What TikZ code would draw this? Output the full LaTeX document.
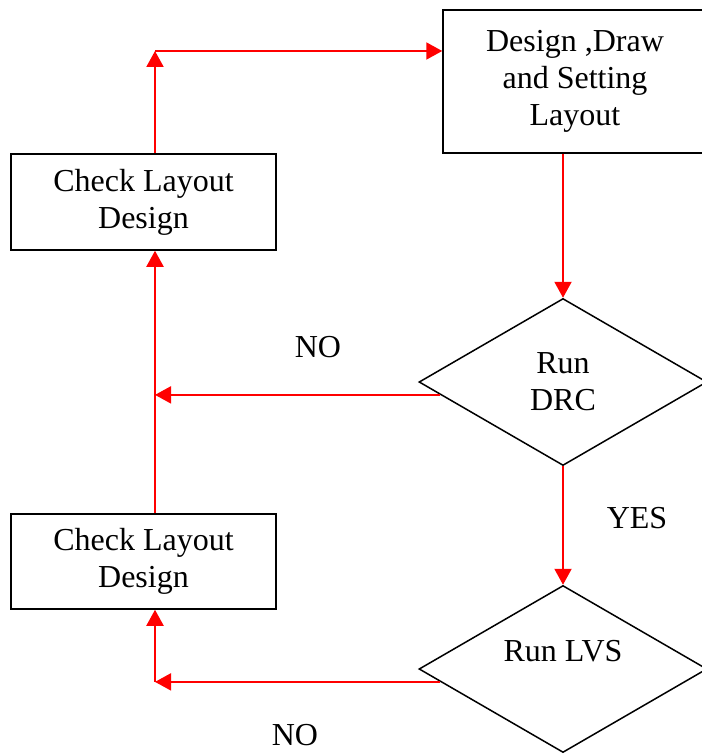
\documentclass[tikz,border=0pt]{standalone}
\usepackage{fontspec}
\setmainfont{Liberation Serif}
\usetikzlibrary{shapes.geometric,arrows.meta}

\begin{document}
\begin{tikzpicture}[x=1pt, y=-1pt,
      font=\fontsize{32}{37}\selectfont,
      box/.style={draw, line width=1.5pt, align=center, inner sep=0pt,
                  minimum width=265pt, minimum height=96pt},
      decision/.style={draw, diamond, aspect=1.7, line width=1.5pt, align=center,
                  inner sep=0pt, minimum width=288pt, minimum height=167pt},
      flow/.style={red, line width=2pt, -{Triangle[length=16pt,width=17pt]}}]
    \useasboundingbox (0,0) rectangle (701,754);
    % boxes and decisions
    \node[box, minimum width=264pt, minimum height=143pt] (layout) at (575,81.5)
      {Design ,Draw\\and Setting\\Layout};
    \node[box] (check1) at (143.5,202) {Check Layout\\Design};
    \node[box, minimum height=95pt] (check2) at (143.5,561.5) {Check Layout\\Design};
    \node[decision] (drc) at (563,382) {Run\\DRC};
    \node[decision] (lvs) at (563,669) {Run LVS\\~};
    % corners of the return paths
    \coordinate (top) at (155,51);
    \coordinate (mid) at (155,394);
    \coordinate (low) at (155,682);
    % connectors
    \draw[flow] (layout.south -| drc.north) -- (drc.north);
    \draw[flow] (drc.south) -- (lvs.north);
    \draw[flow] (drc.186) -- (drc.186 -| mid);
    \draw[flow] (lvs.186) -- (lvs.186 -| low);
    \draw[flow] (lvs.186 -| low) -- (check2.south -| low);
    \draw[flow] (check2.north -| mid) -- (check1.south -| mid);
    \draw[flow] (check1.north -| top) -- (top);
    \draw[flow] (top) -- (top -| layout.west);
    % labels
    \node (no1) at (318,347) {NO};
    \node (yes) at (637,518) {YES};
    \node (no2) at (295,735) {NO};
  \end{tikzpicture}
\end{document}
